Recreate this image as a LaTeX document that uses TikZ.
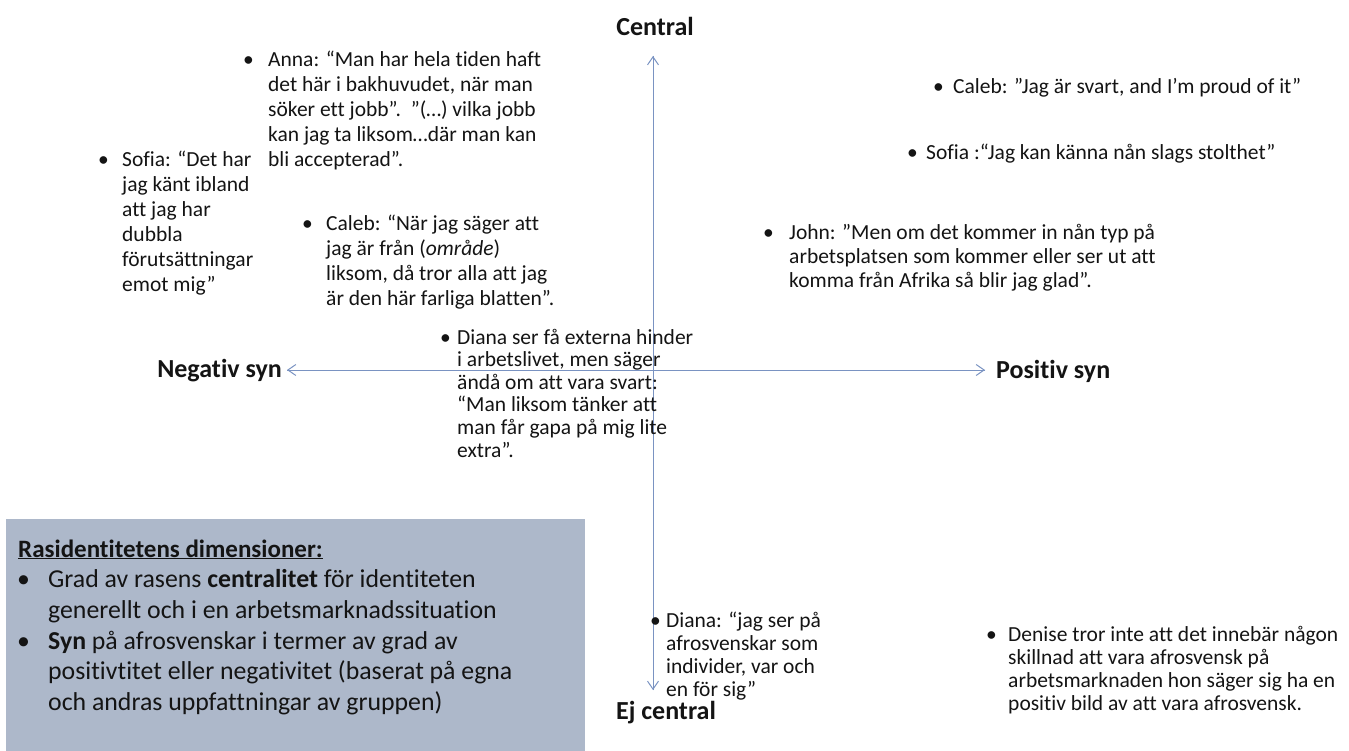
\documentclass[tikz,border=0pt]{standalone}
\usepackage{fontspec}
\setmainfont{Carlito}[Ligatures=NoCommon]
\usetikzlibrary{arrows.meta}

\definecolor{axiscol}{HTML}{7A93C2}
\definecolor{boxcol}{HTML}{ADB8CA}
\definecolor{inkcol}{HTML}{141414}

% bullet item: bullet in a box of width #1, then the lines of #2
\newcommand{\qitem}[2]{\makebox[#1][l]{•}\parbox[t]{600pt}{\raggedright #2}}

\tikzset{
  quote/.style={inner sep=0pt, anchor=base west, text=inkcol,
                font=\fontsize{21.5}{25}\selectfont},
  axislabel/.style={inner sep=0pt, text=inkcol,
                    font=\fontsize{26}{30}\selectfont\bfseries},
  axisline/.style={draw=axiscol, line width=1pt,
                   -{Straight Barb[length=8pt,width=11pt,line width=1pt]}},
}

\begin{document}
\begin{tikzpicture}[x=1pt,y=-1pt]
\useasboundingbox[fill=white] (0,0) rectangle (1349,751);

% legend box
\fill[boxcol] (6,519) rectangle (585,751);
\node[inner sep=0pt, anchor=base west, text=inkcol,
      font=\fontsize{25.8}{30.7}\selectfont] (legend) at (18,557)
  {\parbox[t]{560pt}{\raggedright
   {\fontsize{25}{30.7}\selectfont\textbf{\underline{Rasidentitetens dimensioner:}}}\\
   \makebox[30pt][l]{\hspace{-1pt}•}Grad av rasens \textbf{centralitet} för identiteten\\
   \makebox[30pt][l]{}generellt och i en arbetsmarknadssituation\\
   \makebox[30pt][l]{\hspace{-1pt}•}\textbf{Syn} på afrosvenskar i termer av grad av\\
   \makebox[30pt][l]{}positivtitet eller negativitet (baserat på egna\\
   \makebox[30pt][l]{}och andras uppfattningar av gruppen)}};

% axes
\coordinate (orig) at (653,370);
\node[axislabel] (central) at (655,26) {Central};
\node[axislabel] (ejcentral) at (666,713) {Ej central};
\node[axislabel, anchor=east] (neg) at (282,371) {Negativ syn};
\node[axislabel, anchor=west] (pos) at (996,371) {Positiv syn};
\coordinate (top) at (653,56);
\coordinate (bottom) at (653,690);
\coordinate (left) at (287,370);
\coordinate (right) at (985,370);
\draw[axisline] (orig |- bottom) -- (top);
\draw[axisline] (orig |- top) -- (bottom);
\draw[axisline] (orig -| right) -- (left);
\draw[axisline] (orig -| left) -- (right);

% quotes, upper left
\node[quote] (anna) at (243,67) {\qitem{25pt}{Anna: “Man har hela tiden haft\\
  det här i bakhuvudet, när man\\
  söker ett jobb”.\ \ ”(…) vilka jobb\\
  kan jag ta liksom…där man kan\\
  bli accepterad”.}};
\node[quote] (sofiaL) at (98,167) {\qitem{24pt}{Sofia: “Det har\\
  jag känt ibland\\
  att jag har\\
  dubbla\\
  förutsättningar\\
  emot mig”}};
\node[quote] (calebL) at (302,231) {\qitem{24pt}{Caleb: “När jag säger att\\
  jag är från (\textit{område})\\
  liksom, då tror alla att jag\\
  är den här farliga blatten”.}};
\node[quote, font=\fontsize{21.5}{22.6}\selectfont] (dianaC) at (440,344)
  {\qitem{17pt}{Diana ser få externa hinder\\
  i arbetslivet, men säger\\
  ändå om att vara svart:\\
  “Man liksom tänker att\\
  man får gapa på mig lite\\
  extra”.}};

% quotes, upper right
\node[quote] (calebR) at (933,94) {\qitem{20pt}{Caleb: ”Jag är svart, and I’m proud of it”}};
\node[quote] (sofiaR) at (907,160) {\qitem{19pt}{Sofia :“Jag kan känna nån slags stolthet”}};
\node[quote, font=\fontsize{21.5}{24}\selectfont] (john) at (763,240)
  {\qitem{26pt}{John: ”Men om det kommer in nån typ på\\
  arbetsplatsen som kommer eller ser ut att\\
  komma från Afrika så blir jag glad”.}};

% quotes, lower half
\node[quote, font=\fontsize{21.5}{23.3}\selectfont] (dianaB) at (650,627)
  {\qitem{16pt}{Diana: “jag ser på\\
  afrosvenskar som\\
  individer, var och\\
  en för sig”}};
\node[quote, font=\fontsize{21.5}{23.3}\selectfont] (denise) at (986,641)
  {\qitem{22pt}{Denise tror inte att det innebär någon\\
  skillnad att vara afrosvensk på\\
  arbetsmarknaden hon säger sig ha en\\
  positiv bild av att vara afrosvensk.}};
\end{tikzpicture}
\end{document}
